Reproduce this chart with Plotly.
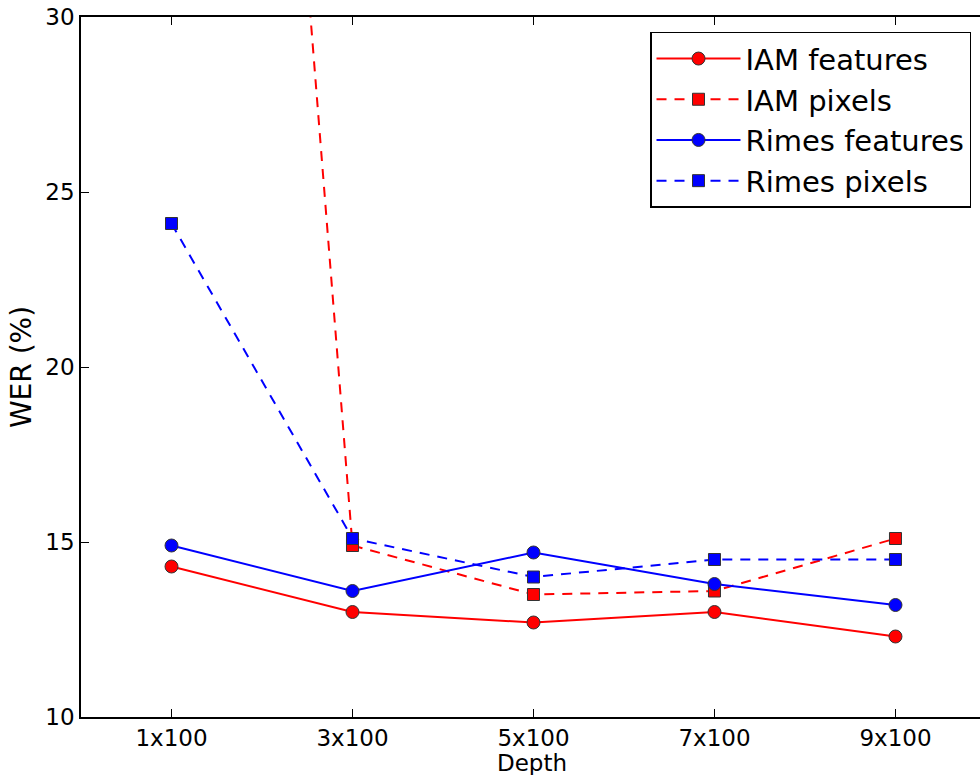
import plotly.graph_objects as go

depths = ["1x100", "3x100", "5x100", "7x100", "9x100"]
iam_features = [14.3, 13.0, 12.7, 13.0, 12.3]
iam_pixels = [80.0, 14.9, 13.5, 13.6, 15.1]
rimes_features = [14.9, 13.6, 14.7, 13.8, 13.2]
rimes_pixels = [24.1, 15.1, 14.0, 14.5, 14.5]
y_ticks = [10, 15, 20, 25, 30]

RED = "#FF0000"
BLUE = "#0000FF"
EDGE = dict(color="#333333", width=1)

fig = go.Figure()
series = [
    ("IAM features", iam_features, RED, "solid", "circle", 13),
    ("IAM pixels", iam_pixels, RED, "10px,8px", "square", 12),
    ("Rimes features", rimes_features, BLUE, "solid", "circle", 13),
    ("Rimes pixels", rimes_pixels, BLUE, "10px,8px", "square", 12),
]
for name, vals, col, dash, sym, size in series:
    fig.add_trace(go.Scatter(
        x=list(range(len(depths))), y=vals, name=name, mode="lines+markers",
        line=dict(color=col, width=2, dash=dash),
        marker=dict(symbol=sym, size=size, color=col, line=EDGE),
    ))

fig.update_layout(
    width=980, height=775,
    margin=dict(l=81, r=0, t=17, b=58),
    paper_bgcolor="white", plot_bgcolor="white",
    font=dict(family="DejaVu Sans", size=23, color="black"),
    showlegend=True,
    legend=dict(
        x=0.990, y=0.979, xanchor="right", yanchor="top",
        bgcolor="white", bordercolor="black", borderwidth=1.5,
        font=dict(size=29), itemwidth=84, tracegroupgap=0,
    ),
    xaxis=dict(
        range=[-0.5, 4.467], tickmode="array", automargin=False,
        tickvals=list(range(len(depths))), ticktext=depths,
        showgrid=False, zeroline=False,
        showline=True, linecolor="black", linewidth=1.5, mirror="ticks",
        ticks="inside", ticklen=8, tickcolor="black",
    ),
    yaxis=dict(
        range=[10, 30], tickmode="array", tickvals=y_ticks, automargin=False,
        showgrid=False, zeroline=False,
        showline=True, linecolor="black", linewidth=1.5,
        ticks="inside", ticklen=8, tickcolor="black",
        title=dict(text="WER (%)", standoff=6),
    ),
    annotations=[dict(
        text="Depth", xref="paper", yref="paper", x=0.502, y=-0.066,
        xanchor="center", yanchor="middle", showarrow=False,
        font=dict(size=23),
    )],
)

fig.write_html(
    "out.html",
    config={"displayModeBar": False},
    post_script="document.body.style.margin='0';document.body.style.overflow='hidden';",
)
